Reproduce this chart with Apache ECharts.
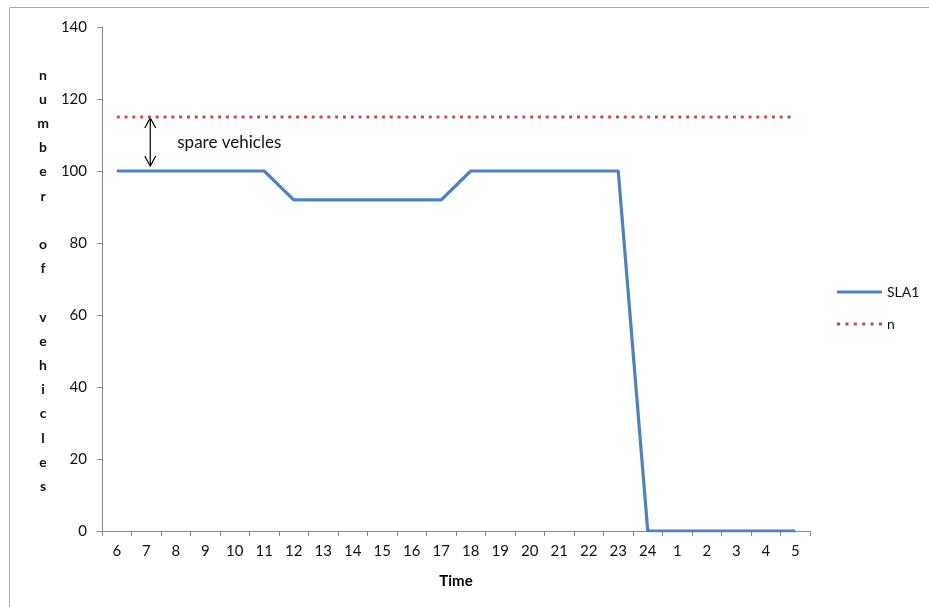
<!DOCTYPE html>
<html>
<head>
<meta charset="utf-8">
<style>
  html, body { margin: 0; padding: 0; background: #fff; }
  #chart { width: 929px; height: 607px; }
</style>
<script src="https://cdn.jsdelivr.net/npm/echarts@6/dist/echarts.min.js"></script>
</head>
<body>
<div id="chart"></div>
<script>
// Hours of the operating day, starting at 6 and wrapping past midnight
const hours = ['6','7','8','9','10','11','12','13','14','15','16','17','18','19','20','21','22','23','24','1','2','3','4','5'];
// Vehicles needed under SLA1 for each hour
const sla1 = [100,100,100,100,100,100,92,92,92,92,92,92,100,100,100,100,100,100,0,0,0,0,0,0];
// Fleet size n
const fleet = [115,115,115,115,115,115,115,115,115,115,115,115,115,115,115,115,115,115,115,115,115,115,115,115];
// Y-axis title, one letter per line
const yTitle = 'number of vehicles';
// Where the spare-vehicles arrow sits
const arrowHour = '7';
const arrowTop = 115;
const arrowBottom = 100;

const FONT = 'Lato, "Open Sans", sans-serif';
const AXIS = '#868686';

// dotted legend swatch: six small squares in a row
const dotIcon = 'path://' + [0, 8, 16, 24, 32, 40].map(function (x) {
  return 'M' + x + ',0h3v3h-3z';
}).join(' ');

const chart = echarts.init(document.getElementById('chart'));

const option = {
  animation: false,
  backgroundColor: '#fff',
  grid: { left: 102, right: 119, top: 27, bottom: 76, containLabel: false },
  xAxis: {
    type: 'category',
    data: hours,
    boundaryGap: true,
    name: 'Time',
    nameLocation: 'middle',
    nameGap: 43,
    nameTextStyle: { fontFamily: FONT, fontWeight: 'bold', fontSize: 15, color: '#000' },
    axisLine: { lineStyle: { color: AXIS, width: 1 } },
    axisTick: { show: true, length: 5, inside: false, lineStyle: { color: AXIS } },
    axisLabel: { fontFamily: FONT, fontSize: 15, color: '#111', margin: 13, interval: 0 },
    splitLine: { show: false }
  },
  yAxis: {
    type: 'value',
    min: 0,
    max: 140,
    interval: 20,
    axisLine: { show: true, lineStyle: { color: AXIS, width: 1 } },
    axisTick: { show: true, length: 5, inside: false, lineStyle: { color: AXIS } },
    axisLabel: { fontFamily: FONT, fontSize: 15, color: '#111', margin: 15 },
    splitLine: { show: false }
  },
  legend: {
    orient: 'vertical',
    left: 832,
    top: 280,
    itemWidth: 45,
    itemHeight: 14,
    itemGap: 18,
    textStyle: { fontFamily: FONT, fontSize: 14, color: '#111', lineHeight: 14 },
    data: [
      { name: 'SLA1', icon: 'path://M0,0 L45,0 L45,3 L0,3 Z', itemStyle: { color: '#4F81BD' } },
      { name: 'n', icon: dotIcon, itemStyle: { color: '#C0504D' } }
    ]
  },
  series: [
    {
      name: 'SLA1',
      type: 'line',
      data: sla1,
      symbol: 'none',
      lineStyle: { color: '#4F81BD', width: 3.2 },
      itemStyle: { color: '#4F81BD' }
    },
    {
      name: 'n',
      type: 'line',
      data: fleet,
      symbol: 'none',
      lineStyle: { color: '#C0504D', width: 3, type: [3, 4.8] },
      itemStyle: { color: '#C0504D' }
    }
  ]
};

chart.setOption(option);

// Arrow between the fleet line and the demand line, plus its caption
const pTop = chart.convertToPixel({ gridIndex: 0 }, [arrowHour, arrowTop]);
const pBot = chart.convertToPixel({ gridIndex: 0 }, [arrowHour, arrowBottom]);
const ax = pTop[0] + 4;
const headStyle = { stroke: '#000', lineWidth: 1.2, fill: null };
const yT = pTop[1] + 1;
const yB = pBot[1] - 5;

const graphics = [
  // outer frame (top and left edges)
  { type: 'line', shape: { x1: 9.5, y1: 7.5, x2: 929, y2: 7.5 }, style: { stroke: '#a8a8a8', lineWidth: 1 } },
  { type: 'line', shape: { x1: 9.5, y1: 7.5, x2: 9.5, y2: 607 }, style: { stroke: '#a8a8a8', lineWidth: 1 } },
  // y-axis title
  {
    type: 'text',
    x: 43,
    y: 63,
    style: {
      text: yTitle.split('').join('\n'),
      font: 'bold 14px ' + FONT,
      fill: '#111',
      lineHeight: 24.2,
      align: 'center',
      verticalAlign: 'top'
    }
  },
  // double-headed arrow
  { type: 'line', shape: { x1: ax, y1: yT, x2: ax, y2: yB }, style: { stroke: '#000', lineWidth: 1.2 } },
  { type: 'polyline', shape: { points: [[ax - 5.5, yT + 10], [ax, yT], [ax + 5.5, yT + 10]] }, style: headStyle },
  { type: 'polyline', shape: { points: [[ax - 5.5, yB - 10], [ax, yB], [ax + 5.5, yB - 10]] }, style: headStyle },
  {
    type: 'text',
    x: ax + 27,
    y: (pTop[1] + pBot[1]) / 2 - 1,
    style: { text: 'spare vehicles', font: '17px ' + FONT, fill: '#111', verticalAlign: 'middle' }
  }
];

chart.setOption({ graphic: graphics });
</script>
</body>
</html>
